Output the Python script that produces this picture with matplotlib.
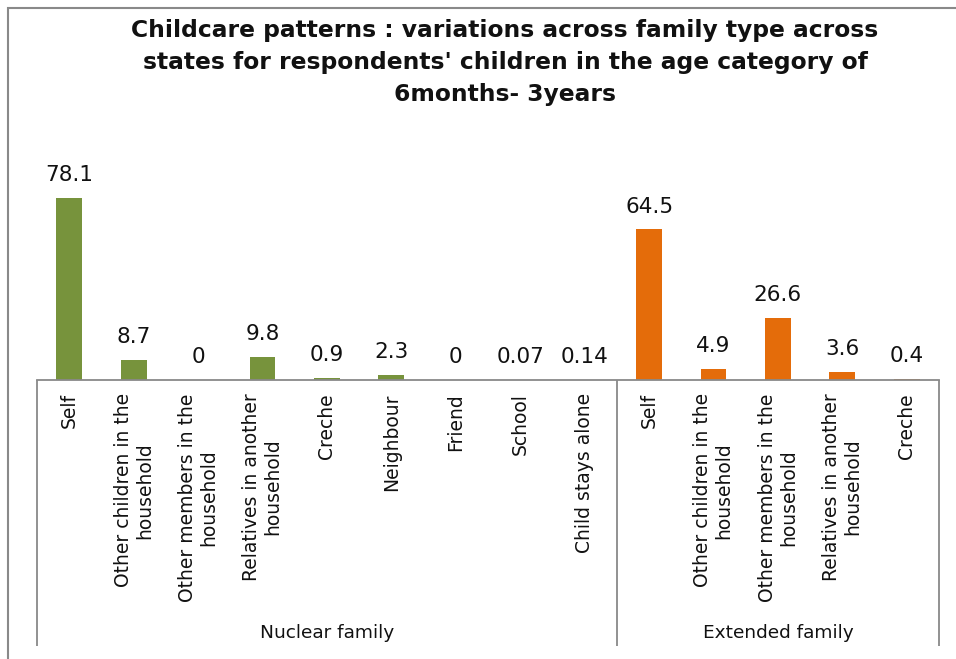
import matplotlib
matplotlib.use("Agg")
import matplotlib.pyplot as plt
import matplotlib.transforms as mtransforms
from matplotlib.patches import Rectangle

plt.rcParams['font.family'] = ['DejaVu Sans']

# data
nuclear_labels = ["Self", "Other children in the\nhousehold", "Other members in the\nhousehold",
                  "Relatives in another\nhousehold", "Creche", "Neighbour", "Friend", "School",
                  "Child stays alone"]
nuclear_values = [78.1, 8.7, 0, 9.8, 0.9, 2.3, 0, 0.07, 0.14]
nuclear_text = ["78.1", "8.7", "0", "9.8", "0.9", "2.3", "0", "0.07", "0.14"]

extended_labels = ["Self", "Other children in the\nhousehold", "Other members in the\nhousehold",
                   "Relatives in another\nhousehold", "Creche"]
extended_values = [64.5, 4.9, 26.6, 3.6, 0.4]
extended_text = ["64.5", "4.9", "26.6", "3.6", "0.4"]

groups = ["Nuclear family", "Extended family"]

title = ("Childcare patterns : variations across family type across\n"
         "states for respondents' children in the age category of\n"
         "6months- 3years")

green = "#77933C"
orange = "#E46C0A"
gray = "#898989"

W, H = 956, 659
fig = plt.figure(figsize=(W / 100, H / 100), dpi=100)
ax_left, ax_right = 37 / W, 939 / W
ax_bottom, ax_top = 1 - 380 / H, 1 - 170 / H
ax = fig.add_axes([ax_left, ax_bottom, ax_right - ax_left, ax_top - ax_bottom])

n1 = len(nuclear_values)
n2 = len(extended_values)
x1 = list(range(n1))
x2 = list(range(n1, n1 + n2))

ax.bar(x1, nuclear_values, width=0.4, color=green)
ax.bar(x2, extended_values, width=0.4, color=orange)

for xs, vals, txts in [(x1, nuclear_values, nuclear_text), (x2, extended_values, extended_text)]:
    for x, v, t in zip(xs, vals, txts):
        ax.annotate(t, (x, v), xytext=(0, 12), textcoords="offset points",
                    ha="center", va="baseline", fontsize=15.5, color="#111111")

ax.set_xlim(-0.5, n1 + n2 - 0.5)
ax.set_ylim(0, 90)
ax.set_yticks([])
ax.set_xticks(x1 + x2)
ax.set_xticklabels(nuclear_labels + extended_labels, rotation=90, fontsize=13.5,
                   multialignment="center", color="#111111", linespacing=1.15)
ax.tick_params(axis="x", length=0, pad=9.5)
for s in ["top", "left", "right"]:
    ax.spines[s].set_visible(False)
ax.spines["bottom"].set_color(gray)
ax.spines["bottom"].set_linewidth(1.3)

# group separators below the axis
trans = mtransforms.blended_transform_factory(ax.transData, fig.transFigure)
y_low = 1 - 646 / H
for xv in [-0.5, n1 - 0.5, n1 + n2 - 0.5]:
    ax.plot([xv, xv], [ax_bottom, y_low], transform=trans, color=gray, lw=1.3,
            clip_on=False, solid_capstyle="butt")

y_grp = 1 - 633 / H
ax.text((-0.5 + n1 - 0.5) / 2, y_grp, groups[0], transform=trans, ha="center",
        va="center", fontsize=13.3, color="#111111")
ax.text((n1 - 0.5 + n1 + n2 - 0.5) / 2, y_grp, groups[1], transform=trans, ha="center",
        va="center", fontsize=13.3, color="#111111")

fig.text(505 / W, 1 - 63 / H, title, ha="center", va="center", fontsize=16.8,
         fontweight="bold", linespacing=1.5, color="#111111")

# chart border
fig.patches.append(Rectangle((8 / W, -0.1), 1.2, 1.1 - 8 / H, transform=fig.transFigure,
                             fill=False, edgecolor=gray, lw=1.5))

fig.savefig("out.png", dpi=100)
